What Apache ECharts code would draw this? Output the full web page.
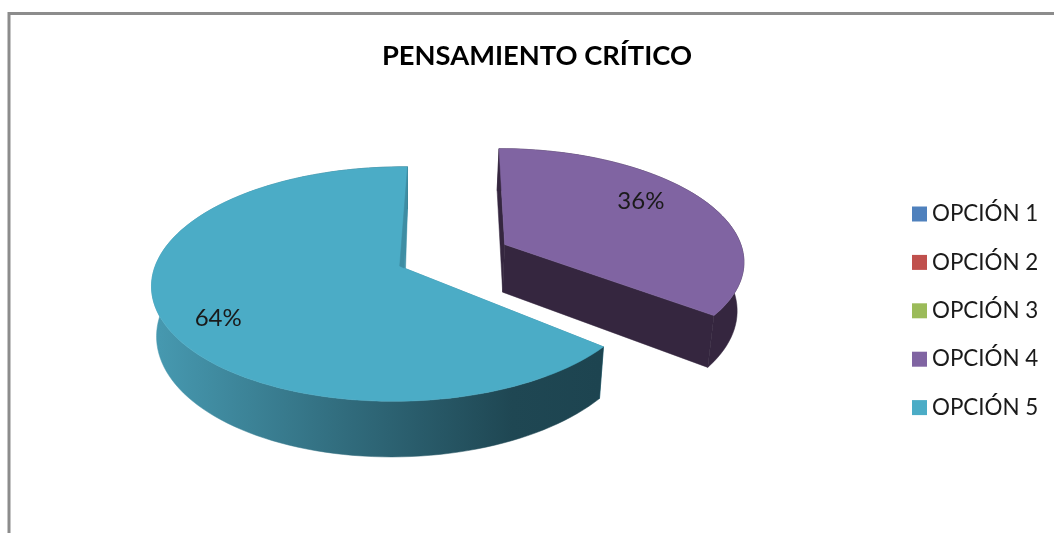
<!DOCTYPE html>
<html>
<head>
<meta charset="utf-8">
<style>html,body{margin:0;padding:0;background:#fff}#c{width:1054px;height:533px}</style>
<script src="https://cdn.jsdelivr.net/npm/echarts@6/dist/echarts.min.js"></script>
</head>
<body>
<div id="c"></div>
<script>
const titleText = 'PENSAMIENTO CRÍTICO';
const categories = ['OPCIÓN 1', 'OPCIÓN 2', 'OPCIÓN 3', 'OPCIÓN 4', 'OPCIÓN 5'];
const values = [0, 0, 0, 36, 64];
const colors = ['#4F81BD', '#C0504D', '#9BBB59', '#8064A2', '#4BACC6'];

// Pie layout (perspective view of a disc); each visible slice has its own fit
const startDeg = 270;
const origin = { cx: 404, cy: 268, ry: 115, p: 0.137, shrink: 0.98 };
const views = [null, null, null,
  { rx: 243, q: 0, s: -7.2, depth: 49, offset: [0.42, -0.21], endTrim: -2.6 },
  { rx: 244, q: 0.022, s: -4, depth: 48, offset: [0, 0], endTrim: 0 }
];
const labelPos = [null, null, null, { r: 0.75, shift: -9 }, { r: 0.81, shift: -4.9 }];
const wallColor = [null, null, null, '#35263F', '#3E8DA3'];
const wallHinge = [null, null, null, null, [-0.018, -0.017]];
const sideFill = [null, null, null, '#35263F', {
  type: 'linear', global: true, x: 160, y: 0, x2: 600, y2: 0,
  colorStops: [
    { offset: 0, color: '#4698AF' },
    { offset: 0.42, color: '#316C7D' },
    { offset: 0.8, color: '#1F4753' },
    { offset: 1, color: '#1D4450' }
  ]
}];

const total = values.reduce((a, b) => a + b, 0);
const rad = d => d * Math.PI / 180;

function topPt(vw, u, v) {
  const w = 1 - origin.p * v + vw.q * u;
  return [origin.cx + (vw.rx * u + vw.s * v) / w, origin.cy + origin.ry * v / w];
}
function bottomPt(vw, u, v) {
  const w = 1 - origin.p * v + vw.q * u;
  return [origin.cx + origin.shrink * (vw.rx * u + vw.s * v) / w, origin.cy + (origin.ry * v + vw.depth) / w];
}
function sliceRange(i) {
  const before = values.slice(0, i).reduce((a, b) => a + b, 0);
  const a0 = startDeg + before / total * 360;
  return [a0, a0 + values[i] / total * 360];
}
function renderSlice(i) {
  return function (params, api) {
    const val = api.value(0);
    if (!val) return { type: 'group', children: [] };
    const vw = views[i];
    const range = sliceRange(i);
    const a0 = range[0], a1 = range[1] + vw.endTrim;
    const mid = rad((range[0] + range[1]) / 2);
    const ox = vw.offset[0], oy = vw.offset[1];
    const arc = [];
    for (let a = a0; a < a1; a += 2) arc.push([ox + Math.cos(rad(a)), oy + Math.sin(rad(a))]);
    arc.push([ox + Math.cos(rad(a1)), oy + Math.sin(rad(a1))]);
    const first = arc[0], last = arc[arc.length - 1];
    const poly = (pts, fill) => ({ type: 'polygon', shape: { points: pts }, style: { fill: fill, stroke: fill, lineWidth: 0.5 } });
    const T = q => topPt(vw, q[0], q[1]);
    const B = q => bottomPt(vw, q[0], q[1]);
    const apex = [ox, oy];
    const sidePts = arc.map(T).concat(arc.slice().reverse().map(B));
    const lp = labelPos[i];
    const la = mid + rad(lp.shift);
    const lt = T([ox + lp.r * Math.cos(la), oy + lp.r * Math.sin(la)]);
    const children = [
      poly([T(first), B(first), B(apex), T(apex)], wallColor[i]),
      poly([T(last), B(last), B(apex), T(apex)], wallColor[i]),
      poly(sidePts, sideFill[i]),
      poly([T(apex)].concat(arc.map(T)), colors[i])
    ];
    if (wallHinge[i]) {
      const h = [ox + wallHinge[i][0], oy + wallHinge[i][1]];
      children.push(poly([T(last), B(last), T(apex), T(h)], wallColor[i]));
    }
    children.push({ type: 'text', x: lt[0], y: lt[1], style: {
      text: Math.round(val / total * 100) + '%', fill: '#1a1a1a',
      font: '24px Lato', align: 'center', verticalAlign: 'middle' } });
    return { type: 'group', children: children };
  };
}

const chart = echarts.init(document.getElementById('c'), null, { renderer: 'canvas' });
chart.setOption({
  animation: false,
  backgroundColor: '#fff',
  title: { text: titleText, left: 532, top: 38, textAlign: 'center',
    textStyle: { fontFamily: 'Lato', fontWeight: 'bold', fontSize: 27.3, color: '#000' } },
  legend: {
    orient: 'vertical', left: 907, top: 195, itemWidth: 15, itemHeight: 15, itemGap: 20.4,
    icon: 'rect', data: categories, selectedMode: false,
    textStyle: { fontFamily: 'Lato', fontSize: 22.4, color: '#1a1a1a', lineHeight: 28 }
  },
  graphic: [{ type: 'polyline', silent: true,
    shape: { points: [[9, 533], [9, 13.5], [1054, 13.5]] },
    style: { fill: null, stroke: '#8C8C8C', lineWidth: 3 } }],
  series: categories.map((name, i) => ({
    type: 'custom', name: name, coordinateSystem: 'none',
    itemStyle: { color: colors[i] },
    data: [[values[i]]],
    renderItem: renderSlice(i)
  }))
});
</script>
</body>
</html>
